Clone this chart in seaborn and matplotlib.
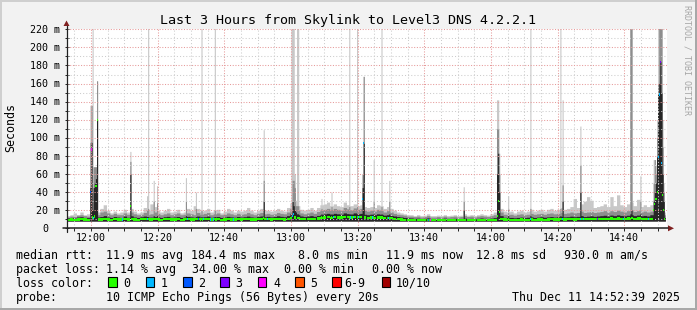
import numpy as np
import matplotlib
matplotlib.use("Agg")
import matplotlib.pyplot as plt
import seaborn as sns
from matplotlib.patches import Rectangle, Polygon
from matplotlib.lines import Line2D

# ---------------- data ----------------
TITLE = "Last 3 Hours from Skylink to Level3 DNS 4.2.2.1"
Y_LABEL = "Seconds"
WATERMARK = "RRDTOOL / TOBI OETIKER"

start_time = "11:52:40"
end_time = "14:52:40"
last_data_time = "14:52:20"
step_seconds = 20

xtick_times = ["12:00", "12:20", "12:40", "13:00", "13:20", "13:40", "14:00", "14:20", "14:40"]
ytick_values = [0, 20, 40, 60, 80, 100, 120, 140, 160, 180, 200, 220]
ytick_labels = ["0", "20 m", "40 m", "60 m", "80 m", "100 m", "120 m", "140 m",
                "160 m", "180 m", "200 m", "220 m"]

# per-minute baseline (ms), 180 minutes starting 11:52:40
base_median = [
    9.5, 9.8, 9.4, 9.6, 10.0, 9.7, 9.5, 10.2, 10.5, 9.8, 9.6, 10.1, 9.7, 9.5, 10.0, 9.8, 9.6, 10.2, 9.7, 10.4,
    9.8, 9.5, 9.9, 10.3, 9.7, 9.6, 10.1, 9.8, 9.5, 9.9, 10.2, 9.6, 9.8, 10.0, 9.5, 9.7, 10.1, 9.8, 9.6, 10.3,
    9.7, 9.9, 10.2, 9.6, 9.8, 10.0, 9.5, 9.7, 10.1, 9.8, 9.6, 10.0, 9.7, 9.9, 10.2, 9.8, 9.6, 10.0, 10.3, 9.9,
    10.2, 9.8, 10.0, 10.4, 10.1, 9.8, 10.6, 11.5, 12.0, 11.2, 10.4, 10.0, 10.3, 10.6, 10.2, 10.8, 11.2, 11.8, 12.2, 11.6,
    12.4, 12.0, 11.8, 12.5, 12.2, 11.9, 12.6, 12.1, 12.4, 11.8, 11.6, 11.9, 11.4, 12.0, 11.8, 11.2, 11.5, 11.0, 10.6, 10.2,
    9.8, 9.5, 9.3, 9.2, 9.0, 9.1, 8.9, 9.0, 9.2, 8.9, 8.8, 9.0, 8.9, 9.1, 8.8, 8.9, 9.0, 8.8, 8.9, 9.1,
    8.9, 9.0, 8.8, 9.0, 9.2, 9.0, 8.9, 9.1, 9.4, 10.0, 10.5, 9.6, 9.3, 9.5, 9.2, 9.4, 9.6, 9.3, 9.5, 9.7,
    9.4, 9.6, 9.8, 9.5, 9.7, 10.0, 9.6, 9.8, 10.1, 9.7, 9.9, 10.2, 9.8, 10.0, 10.4, 9.9, 10.1, 10.3, 10.0, 10.2,
    10.4, 10.6, 10.1, 10.8, 10.5, 10.9, 10.6, 10.3, 10.7, 11.0, 10.5, 10.8, 10.4, 10.6, 10.3, 10.5, 11.0, 12.0, 12.0, 11.0,
]
base_dark = [
    11.5, 12.0, 11.2, 12.5, 12.8, 12.0, 11.8, 13.0, 13.5, 12.5, 13.0, 14.0, 12.5, 12.0, 13.0, 12.4, 12.0, 13.5, 12.2, 13.8,
    12.5, 12.0, 12.8, 13.5, 12.2, 12.4, 13.0, 12.6, 12.0, 12.8, 13.2, 12.2, 12.5, 13.0, 12.0, 12.4, 13.2, 12.6, 12.2, 13.5,
    12.4, 12.8, 13.4, 12.2, 12.6, 13.0, 12.0, 12.5, 13.2, 12.6, 12.2, 13.0, 12.4, 12.8, 13.5, 12.6, 12.2, 13.0, 13.6, 12.8,
    13.2, 12.6, 13.0, 13.8, 13.2, 12.8, 14.0, 16.0, 18.0, 15.0, 13.6, 13.0, 13.5, 14.0, 13.2, 14.2, 15.0, 16.0, 16.5, 15.5,
    16.5, 16.0, 15.5, 17.0, 16.2, 15.8, 17.0, 16.0, 16.5, 15.5, 15.0, 15.6, 15.0, 16.0, 15.4, 14.5, 15.0, 14.2, 13.6, 13.0,
    12.5, 12.0, 11.6, 11.4, 11.0, 11.2, 10.8, 11.0, 11.5, 10.8, 10.6, 11.0, 10.8, 11.2, 10.6, 10.8, 11.0, 10.6, 10.8, 11.2,
    10.8, 11.0, 10.6, 11.0, 11.4, 11.0, 10.8, 11.2, 11.8, 13.0, 14.0, 12.2, 11.8, 12.0, 11.6, 12.0, 12.4, 11.8, 12.2, 12.6,
    12.0, 12.4, 12.8, 12.2, 12.6, 13.0, 12.4, 12.8, 13.2, 12.6, 12.8, 13.4, 12.8, 13.2, 14.0, 13.0, 13.4, 13.8, 13.2, 13.6,
    14.0, 14.4, 13.6, 14.6, 14.0, 14.8, 14.2, 13.8, 14.4, 15.0, 14.0, 14.6, 13.8, 14.2, 13.6, 15.0, 15.0, 15.0, 15.0, 14.0,
]
base_mid = [
    12.5, 13.5, 13.0, 14.5, 15.0, 14.0, 13.5, 16.0, 17.0, 15.0, 18.0, 19.0, 17.0, 15.0, 16.5, 15.0, 15.0, 17.0, 15.5, 18.0,
    16.0, 15.0, 15.5, 17.5, 15.0, 16.0, 18.0, 16.5, 15.0, 16.0, 17.0, 15.0, 16.0, 17.0, 15.0, 15.5, 17.0, 16.0, 15.0, 17.5,
    15.5, 16.5, 17.5, 15.0, 16.0, 17.0, 15.0, 15.5, 17.0, 16.0, 15.0, 16.5, 15.5, 16.0, 17.5, 16.0, 15.0, 16.5, 17.5, 16.0,
    16.5, 15.5, 16.0, 17.5, 16.5, 16.0, 18.0, 22.0, 25.0, 20.0, 17.0, 16.0, 17.0, 18.0, 16.5, 18.5, 20.0, 21.0, 22.0, 20.5,
    22.0, 21.0, 20.0, 23.0, 21.5, 20.5, 22.5, 21.0, 22.0, 20.0, 19.0, 20.0, 19.0, 21.0, 20.0, 18.0, 19.5, 18.0, 16.5, 15.5,
    15.0, 14.5, 13.5, 13.5, 13.0, 13.5, 12.5, 13.0, 14.0, 12.5, 12.5, 13.0, 12.5, 13.5, 12.5, 13.0, 13.5, 12.5, 13.0, 14.0,
    13.0, 13.5, 12.5, 13.5, 14.0, 13.5, 13.0, 14.0, 15.0, 16.5, 18.0, 15.5, 15.0, 15.5, 14.5, 15.5, 16.0, 15.0, 15.5, 16.5,
    15.5, 16.0, 16.5, 15.5, 16.5, 17.0, 16.0, 16.5, 17.5, 16.5, 17.0, 18.0, 17.0, 17.5, 19.0, 17.5, 18.0, 18.5, 17.5, 18.0,
    18.5, 19.5, 18.0, 19.5, 18.5, 20.0, 19.0, 18.0, 19.5, 20.5, 18.5, 19.5, 18.0, 19.0, 18.0, 19.0, 19.0, 19.0, 19.0, 18.0,
]
base_max = [
    14.0, 15.0, 17.0, 15.0, 18.0, 15.0, 16.0, 19.0, 21.0, 18.0, 22.0, 26.0, 20.0, 17.0, 19.0, 17.0, 18.0, 21.0, 18.0, 22.0,
    19.0, 17.0, 18.0, 23.0, 20.0, 27.0, 24.0, 20.0, 18.0, 20.0, 22.0, 18.0, 19.0, 21.0, 17.0, 18.0, 22.0, 20.0, 25.0, 22.0,
    19.0, 20.0, 22.0, 18.0, 20.0, 21.0, 17.0, 19.0, 22.0, 20.0, 18.0, 20.0, 19.0, 20.0, 23.0, 20.0, 18.0, 20.0, 22.0, 20.0,
    20.0, 19.0, 20.0, 22.0, 20.0, 19.0, 23.0, 28.0, 31.0, 25.0, 21.0, 20.0, 21.0, 23.0, 20.0, 23.0, 26.0, 27.0, 29.0, 25.0,
    27.0, 25.0, 24.0, 29.0, 26.0, 25.0, 27.0, 25.0, 26.0, 24.0, 23.0, 24.0, 23.0, 26.0, 25.0, 22.0, 24.0, 22.0, 20.0, 18.0,
    17.0, 16.0, 15.0, 15.0, 14.0, 15.0, 14.0, 14.5, 16.0, 14.0, 14.0, 14.5, 14.0, 15.0, 14.0, 14.5, 15.0, 14.0, 14.5, 16.0,
    14.5, 15.0, 14.0, 15.0, 16.0, 15.0, 14.5, 16.0, 18.0, 21.0, 22.0, 19.0, 18.0, 19.0, 17.0, 19.0, 20.0, 18.0, 19.0, 21.0,
    19.0, 20.0, 21.0, 19.0, 21.0, 22.0, 20.0, 21.0, 23.0, 21.0, 22.0, 24.0, 33.0, 23.0, 27.0, 30.0, 35.0, 31.0, 23.0, 24.0,
    25.0, 27.0, 24.0, 35.0, 25.0, 37.0, 26.0, 24.0, 27.0, 29.0, 25.0, 32.0, 24.0, 26.0, 24.0, 26.0, 26.0, 26.0, 26.0, 24.0,
]
smoke_floor = 8.0

# 20-second spike steps: time, median, dark smoke top, mid smoke top, max ping, lost pings
event_time = ["11:59:40", "12:00:00", "12:00:20", "12:00:40", "12:01:00", "12:01:20", "12:01:40",
              "12:11:40", "12:16:40", "12:17:00", "12:18:40", "12:19:40", "12:28:20", "12:31:20",
              "12:33:00", "12:37:00", "12:51:40", "13:00:00", "13:00:20", "13:00:40", "13:01:00",
              "13:01:40", "13:02:00", "13:09:00", "13:12:00", "13:17:20", "13:19:40", "13:21:20",
              "13:21:40", "13:24:40", "13:27:00", "13:29:20", "13:51:40", "14:01:40", "14:02:00",
              "14:02:20", "14:05:00", "14:11:40", "14:20:40", "14:21:20", "14:26:40", "14:41:40",
              "14:42:00", "14:44:40", "14:48:40", "14:49:00", "14:49:20", "14:49:40", "14:50:00",
              "14:50:20", "14:50:40", "14:51:00", "14:51:20", "14:51:40", "14:52:00"]
event_median = [40, 87, 12, 11, 13, 47, 120,
                25, 10, 10, 10, 10, 10, 10,
                10, 10, 11, 11, 14, 16, 12,
                11, 11, 12, 12, 12, 12, 32,
                94, 12, 12, 11, 9, 14, 30,
                18, 10, 10, 10, 10, 10, 10,
                11, 11, 20, 27, 32, 40, 79,
                148, 184, 72, 37, 20, 10]
event_dark = [45, 95, 20, 45, 50, 55, 120,
              60, 13, 13, 14, 14, 14, 13,
              13, 13, 30, 15, 30, 25, 20,
              16, 16, 16, 16, 16, 16, 45,
              94, 16, 16, 16, 20, 60, 83,
              40, 14, 14, 14, 30, 40, 16,
              20, 16, 30, 40, 50, 79, 148,
              160, 184, 150, 60, 30, 12]
event_mid = [95, 136, 40, 68, 68, 68, 163,
             74, 20, 22, 30, 28, 30, 22,
             20, 20, 53, 20, 53, 53, 45,
             25, 25, 22, 24, 24, 24, 60,
             168, 30, 24, 30, 30, 110, 110,
             60, 22, 22, 22, 48, 70, 225,
             225, 30, 50, 76, 60, 100, 160,
             225, 225, 225, 90, 40, 15]
event_max = [136, 136, 225, 68, 68, 68, 163,
             85, 36, 225, 53, 47, 56, 40,
             225, 225, 109, 225, 225, 225, 60,
             225, 225, 33, 40, 225, 225, 60,
             168, 76, 225, 53, 46, 142, 142,
             83, 36, 225, 225, 142, 113, 225,
             225, 58, 76, 76, 70, 120, 225,
             225, 225, 225, 120, 50, 18]
event_loss = [2, 4, 0, 1, 0, 0, 0,
              0, 0, 0, 0, 0, 0, 0,
              0, 0, 0, 0, 1, 1, 0,
              0, 0, 0, 0, 0, 0, 1,
              1, 0, 0, 0, 0, 0, 0,
              0, 0, 1, 0, 1, 1, 0,
              0, 0, 0, 0, 0, 0, 1,
              1, 3, 1, 0, 0, 0]

# isolated lossy steps on the baseline
loss_time = ["12:09:20", "12:16:40", "12:28:40", "12:32:00", "12:33:40", "12:35:40", "12:36:40",
             "12:42:40", "12:52:40", "13:12:40", "13:17:40", "13:18:40", "13:20:00", "13:24:20",
             "13:29:00", "13:41:00", "13:41:40", "14:27:40", "14:31:40", "14:39:40", "14:47:00"]
loss_value = [1, 1, 1, 2, 1, 1, 1,
              1, 1, 1, 1, 1, 1, 1,
              1, 2, 4, 1, 3, 1, 1]

loss_labels = ["0", "1", "2", "3", "4", "5", "6-9", "10/10"]
loss_hex = ["#26ff00", "#00b8ff", "#0059ff", "#7e00ff", "#ff00ff", "#ff5500", "#ff0000", "#a10000"]

stat_rows = [
    ["median rtt:", "11.9 ms avg", "184.4 ms max", "8.0 ms min", "11.9 ms now", "12.8 ms sd", "930.0 m am/s"],
    ["packet loss:", "1.14 % avg", "34.00 % max", "0.00 % min", "0.00 % now"],
]
probe_label = "probe:"
probe_text = "10 ICMP Echo Pings (56 Bytes) every 20s"
loss_color_label = "loss color:"
stamp_text = "Thu Dec 11 14:52:39 2025"

# ---------------- styling / layout ----------------
W, H = 697, 310
BG = "#f2f2f2"
C_LIGHT, C_MID, C_DARK = "#c8c8c8", "#8e8e8e", "#262626"
GRID_MINOR, GRID_MAJOR = "#cccccc", "#e69a9a"
AXIS_C, ARROW_C = "#202020", "#802020"
X0, X1, YB, YT = 66.5, 666.5, 228.3, 29.3


def fx(px):
    return px / W


def fy(py):
    return 1 - py / H


def secs(s):
    parts = [int(v) for v in s.split(":")]
    while len(parts) < 3:
        parts.append(0)
    return parts[0] * 3600 + parts[1] * 60 + parts[2]


T0 = secs(start_time)


def tmin(s):
    return (secs(s) - T0) / 60.0


span = tmin(end_time)

sns.set_theme(style="white")
plt.rcParams["font.family"] = ["DejaVu Sans Mono"]
plt.rcParams["text.color"] = "black"

fig = plt.figure(figsize=(W / 100, H / 100), dpi=100, facecolor=BG)
ax = fig.add_axes([fx(X0), fy(YB), (X1 - X0) / W, (YB - YT) / H])
ax.set_facecolor("white")
ax.set_xlim(0, span)
ax.set_ylim(0, 220)
for sp in ax.spines.values():
    sp.set_visible(False)

# build 20 s series
n_steps = (secs(last_data_time) - T0) // step_seconds
step_min = step_seconds / 60.0
t = np.arange(n_steps) * step_min
mi = (np.arange(n_steps) * step_seconds) // 60
med = np.array(base_median, float)[mi]
dark = np.array(base_dark, float)[mi]
mid = np.array(base_mid, float)[mi]
mx = np.array(base_max, float)[mi]
loss = np.zeros(n_steps, int)
for i, ts in enumerate(event_time):
    k = (secs(ts) - T0) // step_seconds
    med[k], dark[k], mid[k], mx[k] = event_median[i], event_dark[i], event_mid[i], event_max[i]
    loss[k] = event_loss[i]
for ts, lv in zip(loss_time, loss_value):
    k = (secs(ts) - T0) // step_seconds
    loss[k] = lv

xe = np.append(t, t[-1] + step_min)


def ext(a):
    return np.append(a, a[-1])


for top, col in [(mx, C_LIGHT), (mid, C_MID), (dark, C_DARK)]:
    ax.fill_between(xe, smoke_floor, ext(top), step="post", color=col, lw=0,
                    antialiased=False, zorder=1)

# grid
mark_secs = np.arange(int(np.ceil(T0 / 300) * 300), T0 + int(span * 60) + 1, 300)
mark_pos = [(s - T0) / 60.0 for s in mark_secs]
for s, xm in zip(mark_secs, mark_pos):
    major = int(s) % 1200 == 0
    ax.axvline(xm, color=GRID_MAJOR if major else GRID_MINOR, lw=0.75,
               ls=(0, (1, 1.6)) if major else (0, (1, 2)), zorder=2)
for v in range(10, 221, 10):
    major = v % 20 == 0
    ax.axhline(v, color=GRID_MAJOR if major else GRID_MINOR, lw=0.75,
               ls=(0, (1, 1.6)) if major else (0, (1, 2)), zorder=2)

# median band coloured by loss
level_of = {0: 0, 1: 1, 2: 2, 3: 3, 4: 4, 5: 5, 6: 6, 7: 6, 8: 6, 9: 6, 10: 7}
pal = sns.color_palette(loss_hex)
band = 2.5
cols = [pal[level_of[int(l)]] for l in loss]
ax.bar(t, band, bottom=med - band / 2, width=step_min, align="edge", color=cols,
       linewidth=0, antialiased=False, zorder=4)

# ticks
ax.set_xticks(mark_pos)
ax.set_yticks(list(range(0, 221, 10)))
ax.tick_params(axis="x", which="both", direction="out", length=2.0, width=0.7,
               color=AXIS_C, labelbottom=False, bottom=True)
ax.tick_params(axis="y", which="both", direction="inout", length=3.0, width=0.7,
               color=AXIS_C, labelleft=False, left=True)

# axis lines + arrows
fig.add_artist(Line2D([fx(62.5), fx(668)], [fy(YB), fy(YB)], color=AXIS_C, lw=1.1,
                      transform=fig.transFigure))
fig.add_artist(Line2D([fx(X0), fx(X0)], [fy(232), fy(26)], color=AXIS_C, lw=0.9,
                      transform=fig.transFigure))
fig.add_artist(Polygon([[fx(668), fy(YB - 3)], [fx(668), fy(YB + 3)], [fx(674), fy(YB)]],
                       closed=True, color=ARROW_C, transform=fig.transFigure, lw=0))
fig.add_artist(Polygon([[fx(X0 - 3), fy(26)], [fx(X0 + 3), fy(26)], [fx(X0), fy(20.5)]],
                       closed=True, color=ARROW_C, transform=fig.transFigure, lw=0))

# tick labels
for lab in xtick_times:
    xp = X0 + tmin(lab) * (X1 - X0) / span
    fig.text(fx(xp), fy(240.7), lab, ha="center", va="baseline", fontsize=7.2)
for v, lab in zip(ytick_values, ytick_labels):
    yp = YB - v * (YB - YT) / 220
    right = 60.3 if " " in lab else 48.3
    fig.text(fx(right), fy(yp + 3.6), lab, ha="right", va="baseline", fontsize=7.2)

# title, y label, watermark
fig.text(fx(348.5), fy(24), TITLE, ha="center", va="baseline", fontsize=9.6)
fig.text(fx(14), fy(127.5), Y_LABEL, rotation=90, rotation_mode="anchor",
         ha="center", va="baseline", fontsize=8.4)
fig.text(fx(684.5), fy(5), WATERMARK, rotation=270, rotation_mode="anchor",
         ha="left", va="baseline", fontsize=6.0, color="#a6a6a6")

# legend area
row_base = [258.8, 272.8, 286.6, 300.6]
row1_x = [15.5, 106.5, 191.5, 298.5, 385.5, 476.5, 564.5]
row2_x = [15.5, 106.5, 192.0, 284.5, 371.5]
for txt, xp in zip(stat_rows[0], row1_x):
    fig.text(fx(xp), fy(row_base[0]), txt, ha="left", va="baseline", fontsize=8.4)
for txt, xp in zip(stat_rows[1], row2_x):
    fig.text(fx(xp), fy(row_base[1]), txt, ha="left", va="baseline", fontsize=8.4)
fig.text(fx(15.5), fy(row_base[2]), loss_color_label, ha="left", va="baseline", fontsize=8.4)
box_x = [108.3, 145.7, 183.0, 220.3, 257.6, 295.0, 332.3, 381.7]
lab_x = [123.3, 160.7, 198.0, 235.5, 273.0, 310.3, 344.5, 396.0]
for bx, lx, col, lab in zip(box_x, lab_x, loss_hex, loss_labels):
    fig.add_artist(Rectangle((fx(bx), fy(286.5)), 8.5 / W, 9.5 / H, facecolor=col,
                             edgecolor="black", lw=0.8, transform=fig.transFigure))
    fig.text(fx(lx), fy(row_base[2]), lab, ha="left", va="baseline", fontsize=8.4)
fig.text(fx(15.5), fy(row_base[3]), probe_label, ha="left", va="baseline", fontsize=8.4)
fig.text(fx(106.5), fy(row_base[3]), probe_text, ha="left", va="baseline", fontsize=8.4)
fig.text(fx(680.5), fy(row_base[3]), stamp_text, ha="right", va="baseline", fontsize=8.4)

# image frame shading
fig.add_artist(Rectangle((0, fy(2)), 1, 2 / H, color="#cfcfcf", lw=0, transform=fig.transFigure))
fig.add_artist(Rectangle((0, 0), 2 / W, 1, color="#cfcfcf", lw=0, transform=fig.transFigure))
fig.add_artist(Rectangle((0, 0), 1, 2 / H, color="#a8a8a8", lw=0, transform=fig.transFigure))
fig.add_artist(Rectangle((1 - 2 / W, 0), 2 / W, 1, color="#a8a8a8", lw=0, transform=fig.transFigure))

fig.savefig("out.png", dpi=100, facecolor=BG)
